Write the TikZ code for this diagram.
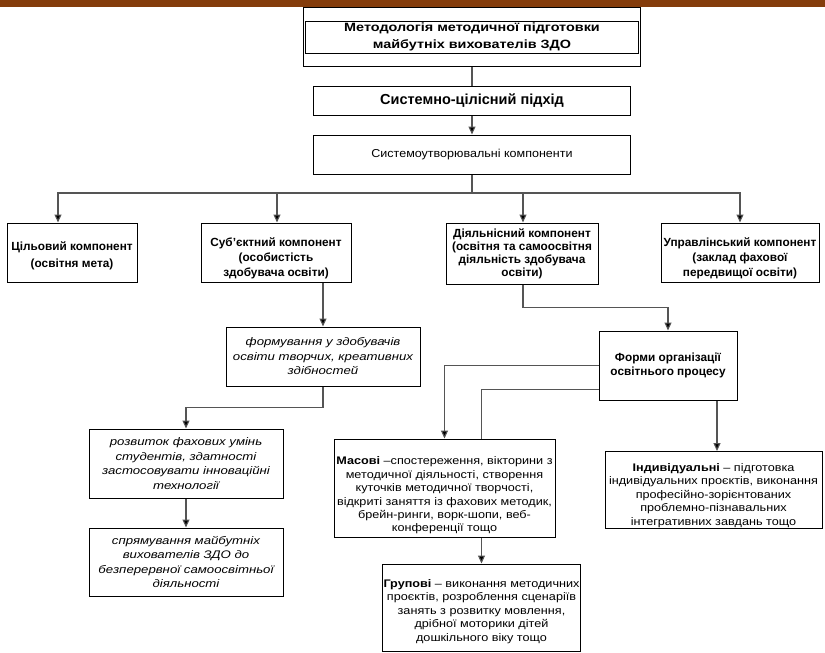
\documentclass[tikz,border=0pt]{standalone}
\usepackage{fontspec}
\setmainfont{Liberation Sans}
\newfontfamily\wideA[FakeStretch=1.2]{Liberation Sans}
\newfontfamily\wideB[FakeStretch=1.09]{Liberation Sans}
\newfontfamily\wideC[FakeStretch=1.15]{Liberation Sans}
\newcommand\pushdown[1]{\rule{0pt}{#1}}
\usetikzlibrary{arrows.meta,backgrounds}
\definecolor{barbrown}{HTML}{843C0B}
\definecolor{linegray}{HTML}{555555}
\begin{document}
\begin{tikzpicture}[x=1pt,y=-1pt,
  box/.style={draw=black,line width=1pt,fill=white,align=center,inner sep=1pt},
  bt/.style={font=\fontsize{11.8}{15}\selectfont\bfseries},
  it/.style={font=\wideA\fontsize{11}{14.5}\selectfont\itshape},
  rt/.style={font=\wideC\fontsize{11}{13.4}\selectfont},
  conn/.style={draw=linegray,line width=1.1pt},
  arr/.style={conn,-{Triangle[length=8pt,width=7pt,fill=black]}}]
\useasboundingbox (0,0) rectangle (825,653);
\fill[barbrown] (0,0) rectangle (825,7);

% nodes
\node[box,minimum width=337pt,minimum height=59pt] (top) at (472,36.5) {};
\node[box,font=\wideA\fontsize{12}{16.5}\selectfont\bfseries,minimum width=333pt,minimum height=32pt] (topin) at (472,37) {Методологія методичної підготовки\\майбутніх вихователів ЗДО};
\node[box,font=\fontsize{14.5}{16}\selectfont\bfseries,minimum width=317pt,minimum height=29pt] (sys) at (472,100.5) {Системно-цілісний підхід};
\node[box,font=\wideB\fontsize{11.5}{14}\selectfont,minimum width=317pt,minimum height=39pt] (comp) at (472,154.5) {Системоутворювальні компоненти};

\node[box,font=\fontsize{11.8}{17}\selectfont\bfseries,minimum width=130pt,minimum height=59pt] (c1) at (72,252.5) {\pushdown{15pt}Цільовий компонент\\(освітня мета)};
\node[box,bt,minimum width=150pt,minimum height=59pt] (c2) at (276,252.5) {\pushdown{20pt}Суб’єктний компонент\\(особистість\\здобувача освіти)};
\node[box,font=\fontsize{11.8}{13}\selectfont\bfseries,minimum width=152pt,minimum height=61pt] (c3) at (522,253.5) {Діяльнісний компонент\\(освітня та самоосвітня\\діяльність здобувача\\освіти)};
\node[box,bt,minimum width=158pt,minimum height=59pt] (c4) at (740,252.5) {\pushdown{20pt}Управлінський компонент\\(заклад фахової\\передвищої освіти)};

\node[box,it,minimum width=194pt,minimum height=59pt] (f1) at (323,356.5) {формування у здобувачів\\освіти творчих, креативних\\здібностей};
\node[box,it,minimum width=194pt,minimum height=69pt] (f2) at (186,463.5) {розвиток фахових умінь\\студентів, здатності\\застосовувати інноваційні\\технології};
\node[box,it,minimum width=194pt,minimum height=68pt] (f3) at (186,562) {спрямування майбутніх\\вихователів ЗДО до\\безперервної самоосвітньої\\діяльності};

\node[box,font=\fontsize{11.8}{14}\selectfont\bfseries,minimum width=138pt,minimum height=69pt] (forms) at (668,365.5) {Форми організації\\освітнього процесу};
\node[box,rt,minimum width=221pt,minimum height=98pt] (mas) at (444.5,488) {\pushdown{23pt}\textbf{Масові} –спостереження, вікторини з\\методичної діяльності, створення\\куточків методичної творчості,\\відкриті заняття із фахових методик,\\брейн-ринги, ворк-шопи, веб-\\конференції тощо};
\node[box,rt,minimum width=217pt,minimum height=76pt] (ind) at (713.5,490) {\pushdown{19pt}\textbf{Індивідуальні} – підготовка\\індивідуальних проєктів, виконання\\професійно-зорієнтованих\\проблемно-пізнавальних\\інтегративних завдань тощо};
\node[box,rt,minimum width=195pt,minimum height=87pt] (grp) at (481.5,607.5) {\pushdown{16pt}\textbf{Групові} – виконання методичних\\проєктів, розроблення сценаріїв\\занять з розвитку мовлення,\\дрібної моторики дітей\\дошкільного віку тощо};

% connectors
\begin{scope}[on background layer]
\coordinate (bus) at (472,193);
\draw[conn] (top.south) -- (sys.north);
\draw[arr] (sys.south) -- (comp.north);
\draw[conn] (comp.south) -- (bus);
\draw[arr] (bus) -| ([xshift=-14pt]c1.north);
\draw[arr] (bus) -| ([xshift=1pt]c2.north);
\draw[arr] (bus) -| ([xshift=1pt]c3.north);
\draw[arr] (bus) -| (c4.north);
\draw[arr] (f1.north |- c2.south) -- (f1.north);
\draw[arr] ([xshift=1pt]c3.south) -- ++(0,23) -| (forms.north);
\draw[arr] (f1.south) -- ++(0,21) -| (f2.north);
\draw[arr] (f2.south) -- (f3.north);
\draw[arr] (forms.west) -| (mas.north);
\draw[arr] ([yshift=-24pt]forms.west) -| (grp.north);
\draw[arr] ([xshift=49pt]forms.south) -- ([xshift=3.5pt]ind.north);
\end{scope}
\end{tikzpicture}
\end{document}
